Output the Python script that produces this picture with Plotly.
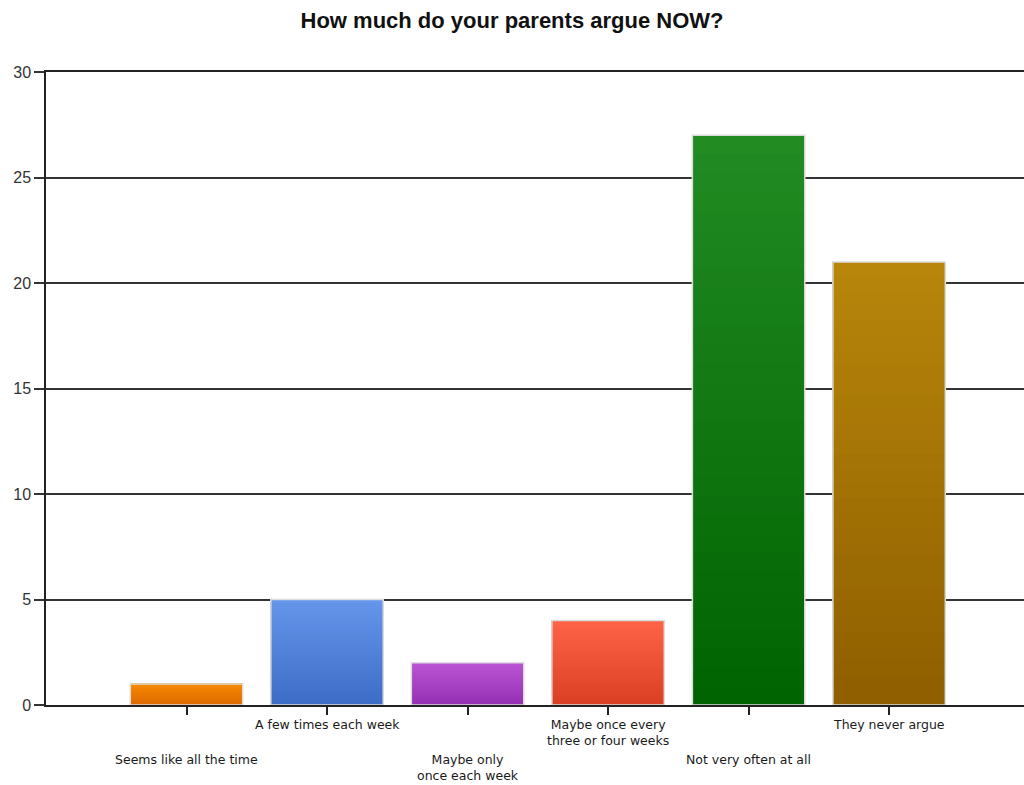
import plotly.graph_objects as go

# Survey answers and response counts
categories = [
    "Seems like all the time",
    "A few times each week",
    "Maybe only<br>once each week",
    "Maybe once every<br>three or four weeks",
    "Not very often at all",
    "They never argue",
]
counts = [1, 5, 2, 4, 27, 21]

# Top (light) and bottom (dark) colours of each bar's vertical gradient
top_colors = ["#F68B00", "#6797EC", "#BB55D4", "#FF6448", "#238C23", "#B8870B"]
bottom_colors = ["#DD6A00", "#3D6DC6", "#9530B4", "#DB4025", "#006400", "#8F5F00"]

TITLE = "How much do your parents argue NOW?"
Y_TICKS = [0, 5, 10, 15, 20, 25, 30]


def hex_to_rgb(h):
    h = h.lstrip("#")
    return tuple(int(h[i:i + 2], 16) for i in (0, 2, 4))


def blend(c0, c1, t):
    a, b = hex_to_rgb(c0), hex_to_rgb(c1)
    return "rgb({},{},{})".format(*(round(a[k] + (b[k] - a[k]) * t) for k in range(3)))


fig = go.Figure()

# Gradient fill: overlapping bars, each starting a bit higher and lighter
steps = 30
for s in range(steps):
    frac = s / steps
    fig.add_trace(go.Bar(
        x=categories,
        y=[v * (1 - frac) for v in counts],
        base=[v * frac for v in counts],
        width=0.8,
        marker=dict(
            color=[blend(b, t, frac) for b, t in zip(bottom_colors, top_colors)],
            line=dict(width=0),
        ),
        hoverinfo="skip",
        showlegend=False,
    ))

# Outline of each bar at its full count
fig.add_trace(go.Bar(
    x=categories,
    y=counts,
    width=0.8,
    marker=dict(color="rgba(0,0,0,0)", line=dict(color="#DCDCDC", width=1.5)),
    showlegend=False,
))

# Staggered category labels under the axis
for i, cat in enumerate(categories):
    fig.add_annotation(
        x=cat, xref="x",
        y=0, yref="paper",
        yanchor="top",
        yshift=-10 if i % 2 else -45,
        text=cat,
        showarrow=False,
        font=dict(family="DejaVu Sans", size=12.5, color="#1a1a1a"),
        align="center",
    )

# Y axis line continues a little below the x axis
fig.add_shape(
    type="line",
    xref="paper", x0=0, x1=0,
    yref="y", ysizemode="pixel", yanchor=0, y0=0, y1=-8,
    line=dict(color="#222222", width=1.5),
)

fig.update_layout(
    width=1024,
    height=785,
    margin=dict(l=46, r=0, t=72, b=80),
    paper_bgcolor="white",
    plot_bgcolor="white",
    barmode="overlay",
    title=dict(
        text=TITLE,
        x=0.5, xref="container", xanchor="center",
        y=1 - 20 / 785, yref="container", yanchor="middle",
        font=dict(family="Liberation Sans", size=22, color="#111111", weight="bold"),
    ),
    xaxis=dict(
        type="category",
        range=[-1, 5.96],
        showticklabels=False,
        ticks="outside",
        ticklen=8,
        tickwidth=1.5,
        tickcolor="#222222",
        showgrid=False,
        showline=True,
        mirror=True,
        linecolor="#222222",
        linewidth=1.5,
        zeroline=False,
    ),
    yaxis=dict(
        range=[0, 30],
        tickvals=Y_TICKS,
        ticks="outside",
        ticklen=10,
        tickwidth=1.5,
        tickcolor="#333333",
        showgrid=True,
        gridcolor="#333333",
        gridwidth=1.5,
        showline=True,
        linecolor="#222222",
        linewidth=1.5,
        zeroline=False,
        tickfont=dict(family="Liberation Sans", size=16, color="#333333"),
    ),
)

fig.write_html("out.html")
